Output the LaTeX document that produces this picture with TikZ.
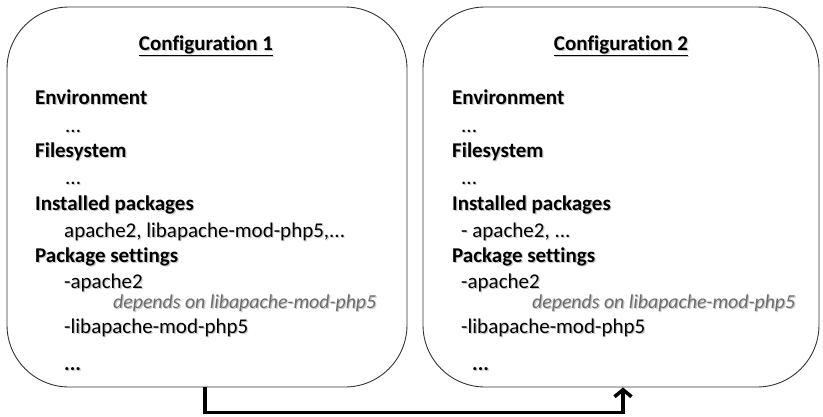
\documentclass[tikz,border=0pt]{standalone}
\usepackage{fontspec}
\setmainfont{Carlito}[Ligatures=NoCommon]
\usetikzlibrary{arrows.meta}
\newcommand\shd[1]{\rlap{\kern1.2pt\raisebox{-1.2pt}{\textcolor{black!22}{#1}}}#1}
\begin{document}
\begin{tikzpicture}[x=1pt,y=-1pt,
  cfgbox/.style={draw=black!80,line width=0.9pt,rounded corners=62pt,minimum width=#1,minimum height=380pt,inner sep=0pt},
  txt/.style={anchor=base west,inner sep=0pt,font=\fontsize{21}{25}\selectfont},
  head/.style={txt,font=\fontsize{21}{25}\selectfont\bfseries},
  dep/.style={anchor=base west,inner sep=0pt,text=black!58,font=\fontsize{19.8}{24}\selectfont\itshape},
  title/.style={anchor=base,inner sep=0pt,font=\fontsize{21}{25}\selectfont\bfseries},
  link/.style={line width=3.5pt,-{Straight Barb[length=7pt,width=17pt]}}]
\useasboundingbox (0,0) rectangle (823,416);
\node[cfgbox=400pt] (box1) at (207,197) {};
\node[cfgbox=396pt] (box2) at (621,197) {};
% left
\node[title] (t1) at (206,50) {\shd{\underline{Configuration 1}}};
\node[head] (e1) at (35,104) {\shd{Environment}};
\node[txt] (e1d) at (65,132) {\shd{...}};
\node[head] (f1) at (35,157) {\shd{Filesystem}};
\node[txt] (f1d) at (65,184) {\shd{...}};
\node[head] (i1) at (35,210) {\shd{Installed packages}};
\node[txt] (i1d) at (64,237) {\shd{apache2, libapache-mod-php5,...}};
\node[head] (p1) at (35,262) {\shd{Package settings}};
\node[txt] (p1a) at (64,288) {\shd{-apache2}};
\node[dep] (p1b) at (113,308) {\shd{depends on libapache-mod-php5}};
\node[txt] (p1c) at (64,333) {\shd{-libapache-mod-php5}};
\node[head] (p1d) at (64,370) {\shd{...}};
% right
\node[title] (t2) at (621,50) {\shd{\underline{Configuration 2}}};
\node[head] (e2) at (452,104) {\shd{Environment}};
\node[txt] (e2d) at (461,132) {\shd{...}};
\node[head] (f2) at (452,157) {\shd{Filesystem}};
\node[txt] (f2d) at (461,184) {\shd{...}};
\node[head] (i2) at (452,210) {\shd{Installed packages}};
\node[txt] (i2d) at (461,237) {\shd{- apache2, ...}};
\node[head] (p2) at (452,262) {\shd{Package settings}};
\node[txt] (p2a) at (461,288) {\shd{-apache2}};
\node[dep] (p2b) at (532,308) {\shd{depends on libapache-mod-php5}};
\node[txt] (p2c) at (461,333) {\shd{-libapache-mod-php5}};
\node[head] (p2d) at (472,370) {\shd{...}};
% connector
\draw[link] ([xshift=-2pt]box1.south) -- ++(0,25) -| ([xshift=2pt]box2.south);
\end{tikzpicture}
\end{document}
